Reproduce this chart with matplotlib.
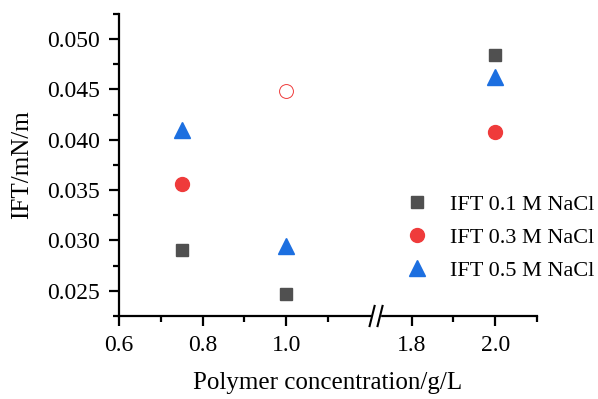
import matplotlib
matplotlib.use("Agg")
import matplotlib.pyplot as plt
import numpy as np

plt.rcParams['font.family'] = ['Liberation Serif', 'DejaVu Serif']

# polymer concentration (g/L) and IFT (mN/m)
conc = [0.75, 1.0, 2.0]
ift_01 = [0.0291, 0.02465, 0.0484]
ift_03 = [0.03565, 0.04483, 0.04073]
ift_05 = [0.0410, 0.02947, 0.0462]
hollow_03 = [False, True, False]  # open symbol point in 0.3 M series

labels = ['IFT 0.1 M NaCl', 'IFT 0.3 M NaCl', 'IFT 0.5 M NaCl']
major_ticks = [0.6, 0.8, 1.0, 1.8, 2.0]
minor_ticks = [0.7, 0.9, 1.1, 1.9, 2.1]

GAP = 0.5  # x-axis break: values above 1.5 shifted left by this


def bx(v):
    v = np.asarray(v, dtype=float)
    return np.where(v > 1.5, v - GAP, v)


c_gray = '#505050'
c_red = '#ef3b3b'
c_blue = '#1c6fe0'

fig = plt.figure(figsize=(5.98, 3.99), dpi=100)
ax = fig.add_axes([0.199, 0.208, 0.699, 0.757])

x = bx(conc)
ax.plot(x, ift_01, 's', ms=9, color=c_gray, mec=c_gray, ls='none', label=labels[0])
h = np.array(hollow_03)
y03 = np.array(ift_03)
ax.plot(x[~h], y03[~h], 'o', ms=10, color=c_red, ls='none', label=labels[1])
ax.plot(x[h], y03[h], 'o', ms=10, mfc='white', mec=c_red, mew=0.7, ls='none')
ax.plot(x, ift_05, '^', ms=11, color=c_blue, ls='none', label=labels[2])

ax.set_xlim(0.6, 1.6)
ax.set_ylim(0.0225, 0.0525)
ax.set_xticks(bx(major_ticks))
ax.set_xticklabels(['%.1f' % t for t in major_ticks])
ax.set_xticks(bx(minor_ticks), minor=True)
yt = np.arange(0.025, 0.0501, 0.005)
ax.set_yticks(yt)
ax.set_yticklabels(['%.3f' % t for t in yt])
ax.set_yticks(np.arange(0.0225, 0.0526, 0.005), minor=True)

for s in ['top', 'right']:
    ax.spines[s].set_visible(False)
for s in ['left', 'bottom']:
    ax.spines[s].set_linewidth(1.6)
ax.tick_params(which='major', length=7.5, width=1.6, labelsize=17, pad=6)
ax.tick_params(which='minor', length=4, width=1.6)

ax.set_xlabel('Polymer concentration/g/L', fontsize=18, labelpad=12)
ax.set_ylabel('IFT/mN/m', fontsize=18, labelpad=10)

# break marks on x axis
xb = 1.215
ax.add_patch(plt.Rectangle((xb - 0.01, 0.02235), 0.02, 0.0003, color='white',
                           clip_on=False, zorder=5, transform=ax.transData))
for dx in (-0.0095, 0.0095):
    ax.plot([xb + dx - 0.006, xb + dx + 0.006], [0.0215, 0.0235], color='black',
            lw=1.5, clip_on=False, zorder=6)

ax.legend(loc='upper left', bbox_to_anchor=(0.679, 0.512), bbox_transform=fig.transFigure,
          frameon=False, fontsize=16, handlelength=1.0, handletextpad=1.0,
          labelspacing=0.55, borderpad=0, borderaxespad=0)

fig.savefig('out.png', dpi=100)
